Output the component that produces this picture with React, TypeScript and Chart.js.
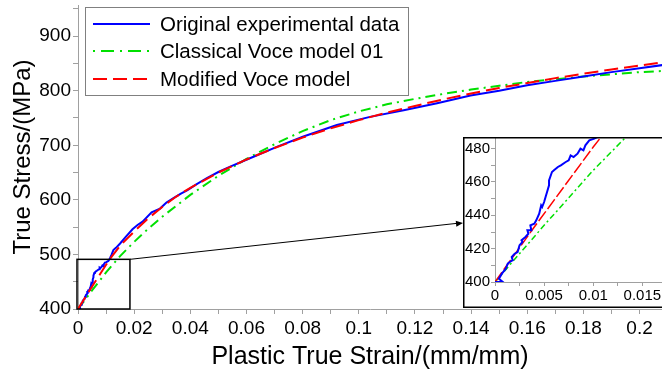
import { useEffect, useRef } from "react";
import { Chart, registerables } from "chart.js";
Chart.register(...registerables);

const FONT = "'Liberation Sans', Arial, sans-serif";

// Original experimental data
const expStrain = [
  0, 0.0004, 0.0008, 0.0004, 0.0007, 0.0011, 0.0013, 0.0015, 0.0018, 0.0017, 0.002, 0.0023, 0.0025,
  0.0028, 0.0027, 0.0031, 0.0034, 0.0033, 0.0037, 0.0036, 0.004, 0.0042, 0.0045, 0.0047, 0.0048,
  0.005, 0.0052, 0.0053, 0.0055, 0.0055, 0.0058, 0.006, 0.0064, 0.0067, 0.0072, 0.0075, 0.0077,
  0.008, 0.0084, 0.0087, 0.009, 0.0092, 0.0096, 0.0101, 0.0108, 0.0114, 0.012, 0.0126, 0.0135,
  0.015, 0.017, 0.0194, 0.0212, 0.023, 0.0262, 0.0292, 0.0315, 0.034, 0.0365, 0.039, 0.042, 0.0459,
  0.05, 0.0542, 0.0625, 0.0708, 0.0803, 0.0922, 0.104, 0.116, 0.1279, 0.1398, 0.15, 0.16, 0.17,
  0.18, 0.19, 0.2, 0.2082,
];
const expStress = [
  400, 400, 400, 402, 405, 408, 411, 412, 413, 415, 417, 418, 422,
  424, 425, 427, 429, 431, 431, 434, 435, 437, 441, 446, 445,
  448, 452, 454, 458, 461, 466, 467, 469, 470, 472, 473, 476,
  475, 477, 480, 479, 482, 485, 486, 488, 493, 500, 508, 512,
  520, 532, 546, 554, 560, 577, 584, 595, 603, 611, 618, 628, 640,
  651, 661, 679, 697, 716, 737, 752, 764, 777, 791, 800, 810, 818,
  826, 834, 841, 847,
];

// Classical Voce model 01
const classicStrain = [
  0, 0.005, 0.01, 0.015, 0.02, 0.025, 0.03, 0.04, 0.05, 0.06, 0.07, 0.08, 0.09, 0.1, 0.11, 0.12,
  0.13, 0.14, 0.15, 0.16, 0.17, 0.18, 0.19, 0.2, 0.208,
];
const classicStress = [
  400, 434, 467, 497, 523, 547, 569, 609, 644, 675, 702, 726, 746, 762, 775, 785,
  794, 802, 809, 816, 821, 826, 830, 834, 836,
];

// Modified Voce model
const modStrain = [
  0, 0.002, 0.004, 0.006, 0.008, 0.01, 0.012, 0.015, 0.02, 0.025, 0.03, 0.035, 0.04, 0.05, 0.06,
  0.07, 0.08, 0.09, 0.1, 0.11, 0.12, 0.13, 0.14, 0.15, 0.16, 0.17, 0.18, 0.19, 0.2, 0.208,
];
const modStress = [
  400, 416.5, 433, 449, 465, 481, 496, 516, 542, 566, 587, 606, 622, 650, 674,
  695, 714, 731, 746, 760, 772, 784, 795, 805, 814, 823, 831, 839, 846, 852,
];

const seriesLabels = ["Original experimental data", "Classical Voce model 01", "Modified Voce model"];

// main axes ticks
const xMainTicks = [0, 0.01, 0.02, 0.03, 0.04, 0.05, 0.06, 0.07, 0.08, 0.09, 0.1, 0.11, 0.12, 0.13, 0.14, 0.15, 0.16, 0.17, 0.18, 0.19, 0.2];
const xMainLabels = ["0", "", "0.02", "", "0.04", "", "0.06", "", "0.08", "", "0.1", "", "0.12", "", "0.14", "", "0.16", "", "0.18", "", "0.2"];
const yMainTicks = [400, 450, 500, 550, 600, 650, 700, 750, 800, 850, 900, 950];
const yMainLabels = ["400", "", "500", "", "600", "", "700", "", "800", "", "900", ""];

// inset axes ticks
const xInsetTicks = [0, 0.0025, 0.005, 0.0075, 0.01, 0.0125, 0.015];
const xInsetLabels = ["0", "", "0.005", "", "0.01", "", "0.015"];
const yInsetTicks = [400, 410, 420, 430, 440, 450, 460, 470, 480];
const yInsetLabels = ["400", "", "420", "", "440", "", "460", "", "480"];

// zoom window marked on main chart
const zoomBoxX = [0, 0.0185];
const zoomBoxY = [400, 491];

const W = 662;
const H = 376;
const INSET = { left: 463, top: 137, width: 199, height: 171 };

const pts = (xs: number[], ys: number[]) => xs.map((x, i) => ({ x, y: ys[i] }));

function makeDatasets(inset: boolean) {
  return [
    {
      label: seriesLabels[0],
      data: pts(expStrain, expStress),
      borderColor: "#0000ff",
      borderWidth: 2,
      showLine: true,
      pointRadius: 0,
      order: inset ? 0 : 1,
    },
    {
      label: seriesLabels[1],
      data: pts(classicStrain, classicStress),
      borderColor: "#00e000",
      borderWidth: inset ? 1.5 : 2,
      borderDash: inset ? [6, 3, 2, 3] : [10, 5, 2, 5],
      showLine: true,
      pointRadius: 0,
      order: 2,
    },
    {
      label: seriesLabels[2],
      data: pts(modStrain, modStress),
      borderColor: "#ff0000",
      borderWidth: inset ? 1.5 : 2,
      borderDash: inset ? [12, 3] : [14, 6],
      showLine: true,
      pointRadius: 0,
      order: inset ? 1 : 0,
    },
  ];
}

const mainPlugin = {
  id: "mainDecor",
  beforeDraw(chart: any) {
    const c = chart.ctx;
    c.save();
    c.fillStyle = "#fff";
    c.fillRect(0, 0, chart.width, chart.height);
    c.restore();
  },
  afterDatasetsDraw(chart: any) {
    const c = chart.ctx;
    const xs = chart.scales.x;
    const ys = chart.scales.y;
    c.save();
    // zoom rectangle
    const x0 = xs.getPixelForValue(zoomBoxX[0]);
    const x1 = xs.getPixelForValue(zoomBoxX[1]);
    const y0 = ys.getPixelForValue(zoomBoxY[0]);
    const y1 = ys.getPixelForValue(zoomBoxY[1]);
    c.strokeStyle = "#000";
    c.lineWidth = 1.5;
    c.strokeRect(x0 - 1, y1, x1 - x0 + 1, y0 - y1);
    // arrow to inset
    const ax = INSET.left;
    const ay = INSET.top + 86;
    c.lineWidth = 1;
    c.beginPath();
    c.moveTo(x1, y1);
    c.lineTo(ax - 3, ay);
    c.stroke();
    const ang = Math.atan2(ay - y1, ax - x1);
    c.fillStyle = "#000";
    c.beginPath();
    c.moveTo(ax, ay);
    c.lineTo(ax - 7 * Math.cos(ang) + 3 * Math.sin(ang), ay - 7 * Math.sin(ang) - 3 * Math.cos(ang));
    c.lineTo(ax - 7 * Math.cos(ang) - 3 * Math.sin(ang), ay - 7 * Math.sin(ang) + 3 * Math.cos(ang));
    c.closePath();
    c.fill();

    // legend
    const lx = 85.5, ly = 7.5, lw = 323, lh = 88;
    c.fillStyle = "#fff";
    c.fillRect(lx, ly, lw, lh);
    c.strokeStyle = "#808080";
    c.lineWidth = 1;
    c.strokeRect(lx, ly, lw, lh);
    const rows = [24, 51, 79];
    chart.data.datasets.forEach((ds: any, i: number) => {
      const y = rows[i];
      c.strokeStyle = ds.borderColor;
      c.lineWidth = 2;
      c.setLineDash(i === 1 ? [2, 6, 13, 6] : ds.borderDash || []);
      c.beginPath();
      c.moveTo(93, y);
      c.lineTo(150, y);
      c.stroke();
      c.setLineDash([]);
      c.fillStyle = "#000";
      c.font = `20.5px ${FONT}`;
      c.textBaseline = "middle";
      c.textAlign = "left";
      c.fillText(ds.label, 160, y + 1);
    });
    c.restore();
  },
};

const insetPlugin = {
  id: "insetDecor",
  beforeDraw(chart: any) {
    const c = chart.ctx;
    c.save();
    c.fillStyle = "#fff";
    c.fillRect(0, 0, chart.width, chart.height);
    c.restore();
  },
  afterDraw(chart: any) {
    const c = chart.ctx;
    c.save();
    c.strokeStyle = "#000";
    c.lineWidth = 1.5;
    c.strokeRect(0.75, 0.75, chart.width + 10, chart.height - 1.5);
    c.restore();
  },
};

const noPadY = (w: number) => (s: any) => {
  s.width = w;
  s.paddingTop = 0;
  s.paddingBottom = 0;
};
const noPadX = (h: number) => (s: any) => {
  s.height = h;
  s.paddingLeft = 0;
  s.paddingRight = 0;
};

export default function App() {
  const mainRef = useRef<HTMLCanvasElement>(null);
  const insetRef = useRef<HTMLCanvasElement>(null);

  useEffect(() => {
    const axisGray = "#a0a0a0";
    const main = new Chart(mainRef.current as HTMLCanvasElement, {
      type: "scatter",
      data: { datasets: makeDatasets(false) as any },
      plugins: [mainPlugin],
      options: {
        responsive: false,
        animation: false,
        layout: { padding: { top: 5, right: 0, left: 0, bottom: 0 } },
        plugins: { legend: { display: false }, tooltip: { enabled: false } },
        scales: {
          x: {
            type: "linear",
            min: 0,
            max: 0.208,
            afterBuildTicks: (s: any) => {
              s.ticks = xMainTicks.map((v) => ({ value: v }));
            },
            afterFit: noPadX(67),
            ticks: {
              callback: (_v: any, i: number) => xMainLabels[i],
              autoSkip: false,
              maxRotation: 0,
              color: "#000",
              padding: 3,
              font: { size: 19, family: FONT },
            },
            grid: { drawOnChartArea: false, tickLength: 5, color: axisGray },
            border: { color: axisGray },
            title: {
              display: true,
              text: "Plastic True Strain/(mm/mm)",
              color: "#000",
              font: { size: 25, family: FONT },
              padding: { top: 0, bottom: 4 },
            },
          },
          y: {
            type: "linear",
            min: 400,
            max: 957,
            afterBuildTicks: (s: any) => {
              s.ticks = yMainTicks.map((v) => ({ value: v }));
            },
            afterFit: noPadY(78),
            ticks: {
              callback: (_v: any, i: number) => yMainLabels[i],
              autoSkip: false,
              color: "#000",
              padding: 2,
              font: { size: 19, family: FONT },
            },
            grid: { drawOnChartArea: false, tickLength: 5, color: axisGray },
            border: { color: axisGray },
            title: {
              display: true,
              text: "True Stress/(MPa)",
              color: "#000",
              font: { size: 24, family: FONT },
              padding: { top: 9, bottom: 0 },
            },
          },
        },
      },
    });

    const inset = new Chart(insetRef.current as HTMLCanvasElement, {
      type: "scatter",
      data: { datasets: makeDatasets(true) as any },
      plugins: [insetPlugin],
      options: {
        responsive: false,
        animation: false,
        layout: { padding: { top: 0, right: 0, left: 0, bottom: 0 } },
        plugins: { legend: { display: false }, tooltip: { enabled: false } },
        scales: {
          x: {
            type: "linear",
            min: 0,
            max: 0.017,
            afterBuildTicks: (s: any) => {
              s.ticks = xInsetTicks.map((v) => ({ value: v }));
            },
            afterFit: noPadX(26),
            ticks: {
              callback: (_v: any, i: number) => xInsetLabels[i],
              autoSkip: false,
              maxRotation: 0,
              color: "#000",
              padding: 1,
              font: { size: 15, family: FONT },
            },
            grid: { drawOnChartArea: false, tickLength: 4, color: axisGray },
            border: { color: axisGray },
          },
          y: {
            type: "linear",
            min: 400,
            max: 487,
            afterBuildTicks: (s: any) => {
              s.ticks = yInsetTicks.map((v) => ({ value: v }));
            },
            afterFit: noPadY(32),
            ticks: {
              callback: (_v: any, i: number) => yInsetLabels[i],
              autoSkip: false,
              color: "#000",
              padding: 1,
              font: { size: 15, family: FONT },
            },
            grid: { drawOnChartArea: false, tickLength: 4, color: axisGray },
            border: { color: axisGray },
          },
        },
      },
    });

    return () => {
      main.destroy();
      inset.destroy();
    };
  }, []);

  return (
    <div style={{ position: "absolute", left: 0, top: 0, width: W, height: H, background: "#fff" }}>
      <canvas ref={mainRef} width={W} height={H} style={{ display: "block", position: "absolute", left: 0, top: 0 }} />
      <canvas
        ref={insetRef}
        width={INSET.width}
        height={INSET.height}
        style={{ display: "block", position: "absolute", left: INSET.left, top: INSET.top }}
      />
    </div>
  );
}
